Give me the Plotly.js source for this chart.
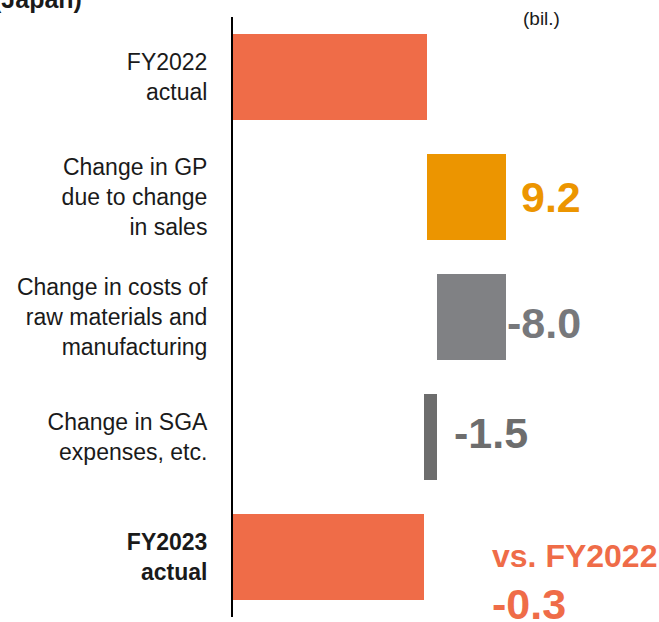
<!DOCTYPE html>
<html>
<head>
<meta charset="utf-8">
<script src="https://cdn.plot.ly/plotly-3.0.1.min.js"></script>
<style>html,body{margin:0;padding:0;background:#fff;}#chart{width:659px;height:622px;}</style>
</head>
<body>
<div id="chart"></div>
<script>
// ---- data ----
const categories = [
  "FY2022<br>actual",
  "Change in GP<br>due to change<br>in sales",
  "Change in costs of<br>raw materials and<br>manufacturing",
  "Change in SGA<br>expenses, etc.",
  "<b>FY2023</b><br><b>actual</b>"
];
const fy2022Actual = 22.6;
const changes = [9.2, -8.0, -1.5];
const fy2023Actual = 22.3;
const vsPrevText = "vs. FY2022";
const unitText = "(bil.)";
const titleText = "(Japan)";

// ---- build waterfall geometry from data ----
const xs = [fy2022Actual];
const bases = [0];
let run = fy2022Actual;
changes.forEach(c => { xs.push(c); bases.push(run); run += c; });
xs.push(fy2023Actual);
bases.push(0);

const colors = ["#EF6C48", "#EC9500", "#808184", "#6D6D6D", "#EF6C48"];

const trace = {
  type: "bar",
  orientation: "h",
  y: categories,
  x: xs,
  base: bases,
  width: 0.717,
  marker: {color: colors, line: {width: 0}},
  hoverinfo: "skip"
};

const fmt = v => v.toFixed(1);
const FONT = "Liberation Sans, Arial, sans-serif";
const labelFont = {family: FONT, size: 43};

const annotations = [
  {x: bases[1] + xs[1], y: categories[1], xref: "x", yref: "y", text: "<b>" + fmt(changes[0]) + "</b>",
   showarrow: false, xanchor: "left", yanchor: "middle", xshift: 13, yshift: 0,
   font: Object.assign({}, labelFont, {color: "#EC9500"})},
  {x: bases[2], y: categories[2], xref: "x", yref: "y", text: "<b>" + fmt(changes[1]) + "</b>",
   showarrow: false, xanchor: "left", yanchor: "middle", xshift: -1, yshift: -6,
   font: Object.assign({}, labelFont, {color: "#77787B"})},
  {x: bases[3], y: categories[3], xref: "x", yref: "y", text: "<b>" + fmt(changes[2]) + "</b>",
   showarrow: false, xanchor: "left", yanchor: "middle", xshift: 15, yshift: 4,
   font: Object.assign({}, labelFont, {color: "#6D6D6D"})},
  {x: fy2023Actual, y: categories[4], xref: "x", yref: "y", text: "<b>" + vsPrevText + "</b>",
   showarrow: false, xanchor: "left", yanchor: "middle", xshift: 66, yshift: 1,
   font: {family: FONT, size: 32, color: "#EF6C48"}},
  {x: fy2023Actual, y: categories[4], xref: "x", yref: "y", text: "<b>" + fmt(fy2023Actual - fy2022Actual) + "</b>",
   showarrow: false, xanchor: "left", yanchor: "middle", xshift: 66, yshift: -47,
   font: Object.assign({}, labelFont, {color: "#EF6C48"})},
  {x: 1, y: 1, xref: "paper", yref: "paper", text: unitText, showarrow: false,
   xanchor: "right", yanchor: "bottom", xshift: -97, yshift: -14,
   font: {family: FONT, size: 19, color: "#1a1a1a"}},
  {x: 0, y: 1, xref: "paper", yref: "paper", text: "<b>" + titleText + "</b>", showarrow: false,
   xanchor: "right", yanchor: "bottom", xshift: -149, yshift: 2,
   font: {family: FONT, size: 25, color: "#1a1a1a"}}
];

const layout = {
  width: 659, height: 622,
  margin: {l: 233, r: 0, t: 17, b: 5, pad: 0},
  paper_bgcolor: "#fff", plot_bgcolor: "#fff",
  showlegend: false,
  bargap: 0,
  xaxis: {range: [0, 49.65], showgrid: false, zeroline: false, showticklabels: false, showline: false, fixedrange: true},
  yaxis: {type: "category", categoryorder: "array", categoryarray: categories, range: [4.5, -0.5],
    showline: true, linecolor: "#000", linewidth: 2, ticks: "", showgrid: false, zeroline: false,
    ticklabelstandoff: 19,
    tickfont: {family: FONT, size: 23, color: "#1a1a1a"}, fixedrange: true},
  annotations: annotations
};

Plotly.newPlot("chart", [trace], layout, {displayModeBar: false, staticPlot: true});
</script>
</body>
</html>
